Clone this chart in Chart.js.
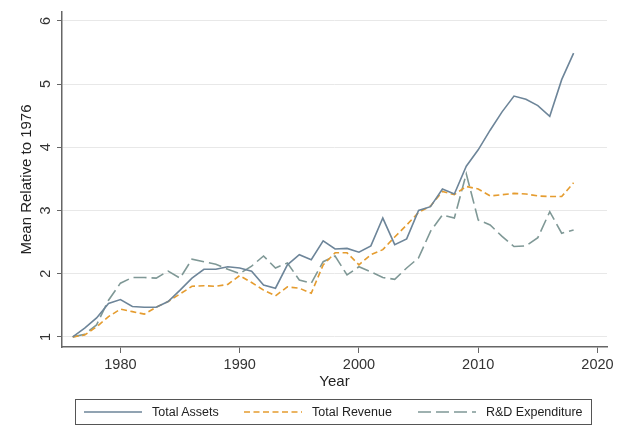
<!DOCTYPE html>
<html>
<head>
<meta charset="utf-8">
<script src="https://cdn.jsdelivr.net/npm/chart.js@4.4.1/dist/chart.umd.min.js"></script>
<style>
  body { margin: 0; background: #fff; font-family: "Liberation Sans", Arial, sans-serif; }
  #wrap { position: relative; width: 621px; height: 428px; }
  #legend {
    position: absolute; left: 75px; top: 399px; width: 517px; height: 26px;
    border: 1px solid #555; box-sizing: border-box;
    font-size: 12.5px; color: #222;
  }
  #legend .item { position: absolute; top: 5px; display: flex; align-items: center; }
  #legend svg { margin-right: 10px; }
</style>
</head>
<body>
<div id="wrap">
  <canvas id="c" width="621" height="428"></canvas>
  <div id="legend"></div>
</div>
<script>
// 年份
const years = [1976, 1977, 1978, 1979, 1980, 1981, 1982, 1983, 1984, 1985,
  1986, 1987, 1988, 1989, 1990, 1991, 1992, 1993, 1994, 1995,
  1996, 1997, 1998, 1999, 2000, 2001, 2002, 2003, 2004, 2005,
  2006, 2007, 2008, 2009, 2010, 2011, 2012, 2013, 2014, 2015,
  2016, 2017, 2018]

const totalAssets = [1.00, 1.14, 1.30, 1.53, 1.59, 1.48, 1.47, 1.47, 1.56, 1.74,
  1.93, 2.07, 2.07, 2.11, 2.09, 2.04, 1.82, 1.77, 2.14, 2.30,
  2.22, 2.52, 2.39, 2.40, 2.34, 2.44, 2.88, 2.46, 2.55, 3.00,
  3.06, 3.34, 3.26, 3.70, 3.96, 4.27, 4.56, 4.81, 4.76, 4.66,
  4.49, 5.07, 5.49]

const totalRevenue = [1.00, 1.03, 1.16, 1.32, 1.44, 1.40, 1.36, 1.47, 1.56, 1.68,
  1.80, 1.81, 1.80, 1.83, 1.97, 1.86, 1.74, 1.65, 1.79, 1.77,
  1.69, 2.14, 2.33, 2.33, 2.14, 2.30, 2.38, 2.58, 2.77, 2.97,
  3.07, 3.30, 3.25, 3.38, 3.34, 3.23, 3.25, 3.27, 3.26, 3.23,
  3.22, 3.22, 3.44]

const rdExpenditure = [1.00, 1.04, 1.19, 1.58, 1.85, 1.94, 1.94, 1.93, 2.04, 1.93,
  2.23, 2.19, 2.15, 2.07, 2.00, 2.12, 2.28, 2.09, 2.17, 1.90,
  1.85, 2.19, 2.28, 1.98, 2.11, 2.03, 1.94, 1.91, 2.09, 2.25,
  2.67, 2.93, 2.88, 3.58, 2.85, 2.77, 2.59, 2.43, 2.44, 2.57,
  2.98, 2.64, 2.69]

const xTicks = [1980, 1990, 2000, 2010, 2020]
const yTicks = [1, 2, 3, 4, 5, 6]

const series = [
  { label: 'Total Assets', data: totalAssets, color: '#6d8599', dash: [] },
  { label: 'Total Revenue', data: totalRevenue, color: '#e59c2f', dash: [6, 3.5] },
  { label: 'R&D Expenditure', data: rdExpenditure, color: '#7f9896', dash: [13, 5] }
]

const font = { family: '"Liberation Sans", Arial, sans-serif', size: 14.5 }

new Chart(document.getElementById('c'), {
  type: 'line',
  data: {
    datasets: series.map(s => ({
      label: s.label,
      data: years.map((y, i) => ({ x: y, y: s.data[i] })),
      borderColor: s.color,
      borderDash: s.dash,
      borderWidth: 1.6,
      pointRadius: 0,
      tension: 0,
      fill: false
    }))
  },
  options: {
    responsive: false,
    animation: false,
    layout: { padding: { top: 12, right: 14, left: 0, bottom: 0 } },
    plugins: { legend: { display: false }, tooltip: { enabled: false } },
    scales: {
      x: {
        type: 'linear',
        min: 1975.1,
        max: 2020.8,
        afterBuildTicks: scale => { scale.ticks = xTicks.map(v => ({ value: v })) },
        afterFit: scale => { scale.height = 81; scale.paddingLeft = 0; scale.paddingRight = 0 },
        ticks: { font: font, color: '#333', padding: 3, maxRotation: 0, callback: v => String(v) },
        grid: { drawOnChartArea: false, tickLength: 6, tickColor: '#666' },
        border: { color: '#666', width: 1.5 },
        title: { display: true, text: 'Year', font: { ...font, size: 15 }, color: '#222', padding: { top: 0, bottom: 37 } }
      },
      y: {
        min: 0.84,
        max: 6.14,
        afterBuildTicks: scale => { scale.ticks = yTicks.map(v => ({ value: v })) },
        afterFit: scale => { scale.width = 62; scale.paddingTop = 0; scale.paddingBottom = 0 },
        ticks: { font: font, color: '#333', padding: 11, minRotation: 90, maxRotation: 90, labelOffset: -4 },
        grid: { color: '#e8e8e8', tickLength: 5, tickColor: '#666' },
        border: { color: '#666', width: 1.5 },
        title: { display: true, text: 'Mean Relative to 1976', font: { ...font, size: 15 }, color: '#222', padding: { top: 18 } }
      }
    }
  }
})

// 图例
const legend = document.getElementById('legend')
const legendX = [8, 168, 342]
series.forEach((s, i) => {
  const item = document.createElement('div')
  item.className = 'item'
  item.style.left = legendX[i] + 'px'
  item.innerHTML = '<svg width="58" height="14"><line x1="0" y1="7" x2="58" y2="7" stroke="' + s.color +
    '" stroke-width="1.6" stroke-dasharray="' + (s.dash.length ? s.dash.join(' ') : 'none') + '"/></svg>' +
    '<span>' + s.label.replace('&', '&amp;') + '</span>'
  legend.appendChild(item)
})
</script>
</body>
</html>
